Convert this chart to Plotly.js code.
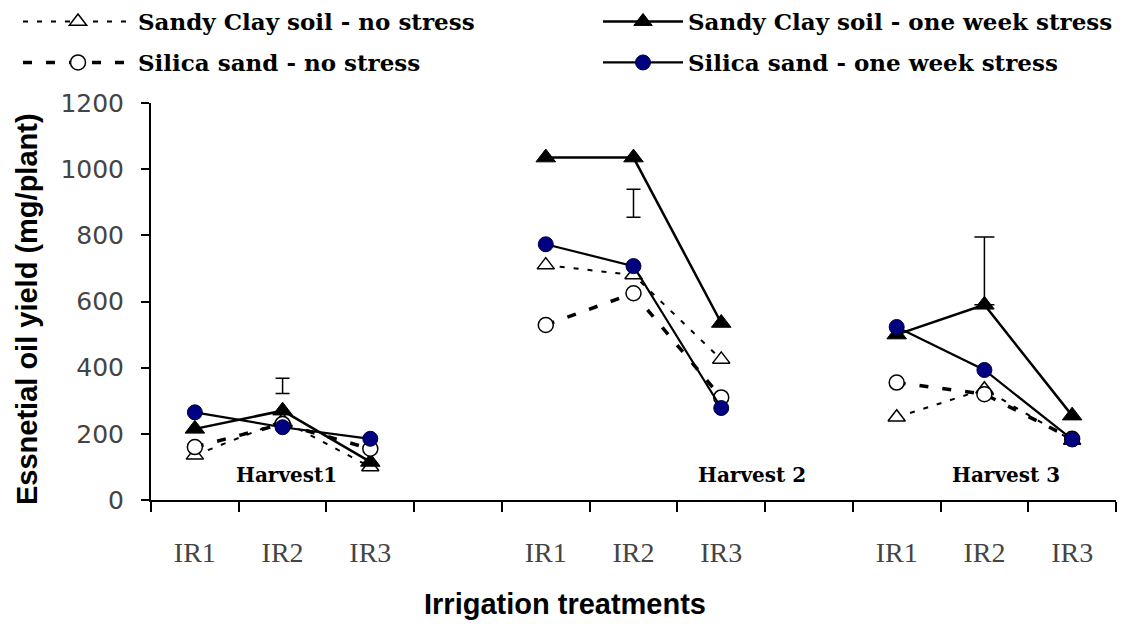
<!DOCTYPE html>
<html>
<head>
<meta charset="utf-8">
<script src="https://cdn.plot.ly/plotly-3.0.1.min.js"></script>
<style>
  html, body { margin: 0; padding: 0; background: #fff; }
  #chart { width: 1130px; height: 624px; }
</style>
</head>
<body>
<div id="chart"></div>
<script>
// Category positions (4 and 8 are empty gaps between harvests)
const xPositions = [1, 2, 3, 4, 5, 6, 7, 8, 9, 10, 11];
const tickPositions = [1, 2, 3, 5, 6, 7, 9, 10, 11];
const tickLabels = ["IR1", "IR2", "IR3", "IR1", "IR2", "IR3", "IR1", "IR2", "IR3"];

const seriesNames = [
  "Sandy Clay soil - no stress",
  "Sandy Clay soil - one week stress",
  "Silica sand - no stress",
  "Silica sand - one week stress"
];

// Essential oil yield (mg/plant)
const sandyClayNoStress = [135, 240, 100, null, 710, 680, 425, null, 250, 335, 180];
const sandyClayStress   = [215, 270, 115, null, 1035, 1035, 535, null, 500, 590, 255];
const silicaNoStress    = [160, 230, 155, null, 529, 625, 310, null, 355, 320, 185];
const silicaStress      = [265, 220, 185, null, 773, 707, 278, null, 523, 393, 183];

// LSD bars (standalone)
const lsdX = [2, 6];
const lsdY = [345, 897];
const lsdHalf = [23, 42];

// Upper error bar on Sandy Clay stress, Harvest 3 IR2
const errX = [10];
const errY = [590];
const errUp = [205];

const harvestLabels = ["Harvest1", "Harvest 2", "Harvest 3"];
const harvestLabelX = [2.05, 7.35, 10.25];
const harvestLabelY = [75, 75, 75];

const xTitle = "Irrigation treatments";
const yTitle = "Essnetial oil yield (mg/plant)";

const traces = [
  {
    x: xPositions, y: sandyClayNoStress, name: seriesNames[0], legend: "legend",
    mode: "lines+markers", connectgaps: false,
    line: { color: "#000", width: 2, dash: "5px,9px" },
    marker: { symbol: "triangle-up", size: 15, color: "#fff", line: { color: "#000", width: 1.5 } }
  },
  {
    x: xPositions, y: sandyClayStress, name: seriesNames[1], legend: "legend2",
    mode: "lines+markers", connectgaps: false,
    line: { color: "#000", width: 2.5 },
    marker: { symbol: "triangle-up", size: 17, color: "#000", line: { color: "#000", width: 1 } }
  },
  {
    x: xPositions, y: silicaNoStress, name: seriesNames[2], legend: "legend3",
    mode: "lines+markers", connectgaps: false,
    line: { color: "#000", width: 3.5, dash: "9px,14px" },
    marker: { symbol: "circle", size: 15, color: "#fff", line: { color: "#000", width: 1.5 } }
  },
  {
    x: xPositions, y: silicaStress, name: seriesNames[3], legend: "legend4",
    mode: "lines+markers", connectgaps: false,
    line: { color: "#000", width: 2.2 },
    marker: { symbol: "circle", size: 15, color: "#000080", line: { color: "#00003a", width: 1 } }
  },
  {
    x: lsdX, y: lsdY, mode: "markers", showlegend: false, hoverinfo: "skip",
    marker: { size: 1, color: "rgba(0,0,0,0)" },
    error_y: { type: "data", array: lsdHalf, symmetric: true, color: "#000", thickness: 1.5, width: 7 }
  },
  {
    x: errX, y: errY, mode: "markers", showlegend: false, hoverinfo: "skip",
    marker: { size: 1, color: "rgba(0,0,0,0)" },
    error_y: { type: "data", array: errUp, arrayminus: [0], symmetric: false, color: "#000", thickness: 1.5, width: 10 }
  }
];

const legendFont = { family: "DejaVu Serif", size: 23, color: "#000", weight: "bold" };
function mkLegend(xp, yp, iw) {
  return {
    orientation: "v", x: xp, xanchor: "left", y: yp, yanchor: "top",
    itemwidth: iw, font: legendFont, bgcolor: "rgba(0,0,0,0)",
    borderwidth: 0
  };
}
// paper coords: plot area spans 151..1116 px horizontally, 103..500 vertically
const col1X = (18 - 151) / 965;
const col2X = (598 - 151) / 965;
const row1Y = 1 + (103 - 0) / 397;
const row2Y = 1 + (103 - 41) / 397;

const titleFont = { family: "Liberation Sans", size: 29, color: "#000", weight: "bold" };

const annotations = harvestLabels.map((t, i) => ({
  x: harvestLabelX[i], y: harvestLabelY[i], xref: "x", yref: "y",
  text: t, showarrow: false,
  font: { family: "DejaVu Serif", size: 20, color: "#000", weight: "bold" }
}));
annotations.push({
  x: (565 - 151) / 965, y: (500 - 604) / 397, xref: "paper", yref: "paper",
  xanchor: "center", yanchor: "middle", text: xTitle, showarrow: false, font: titleFont
});
annotations.push({
  x: (27 - 151) / 965, y: (500 - 309) / 397, xref: "paper", yref: "paper",
  xanchor: "center", yanchor: "middle", textangle: -90, text: yTitle, showarrow: false, font: titleFont
});

const layout = {
  width: 1130, height: 624,
  paper_bgcolor: "#fff", plot_bgcolor: "#fff",
  margin: { l: 151, r: 14, t: 103, b: 124, autoexpand: false },
  showlegend: true,
  legend: mkLegend(col1X, row1Y, 110),
  legend2: mkLegend(col2X, row1Y, 80),
  legend3: mkLegend(col1X, row2Y, 110),
  legend4: mkLegend(col2X, row2Y, 80),
  xaxis: {
    range: [0.5, 11.5], showgrid: false, zeroline: false,
    showline: true, linecolor: "#000", linewidth: 2,
    tickmode: "array", tickvals: tickPositions, ticktext: tickLabels,
    ticks: "", ticklabelstandoff: 26,
    tickfont: { family: "Liberation Serif", size: 28, color: "#444" },
    minor: { tick0: 0.5, dtick: 1, ticks: "outside", ticklen: 10, tickwidth: 2, tickcolor: "#000", showgrid: false }
  },
  yaxis: {
    range: [0, 1200], tickmode: "array", tickvals: [0, 200, 400, 600, 800, 1000, 1200],
    showgrid: false, zeroline: false,
    showline: true, linecolor: "#000", linewidth: 2,
    ticks: "outside", ticklen: 8, tickwidth: 2, tickcolor: "#000",
    ticklabelstandoff: 12,
    tickfont: { family: "DejaVu Sans", size: 25, color: "#444" }
  },
  annotations: annotations
};

Plotly.newPlot("chart", traces, layout, { displayModeBar: false, staticPlot: true });
</script>
</body>
</html>
